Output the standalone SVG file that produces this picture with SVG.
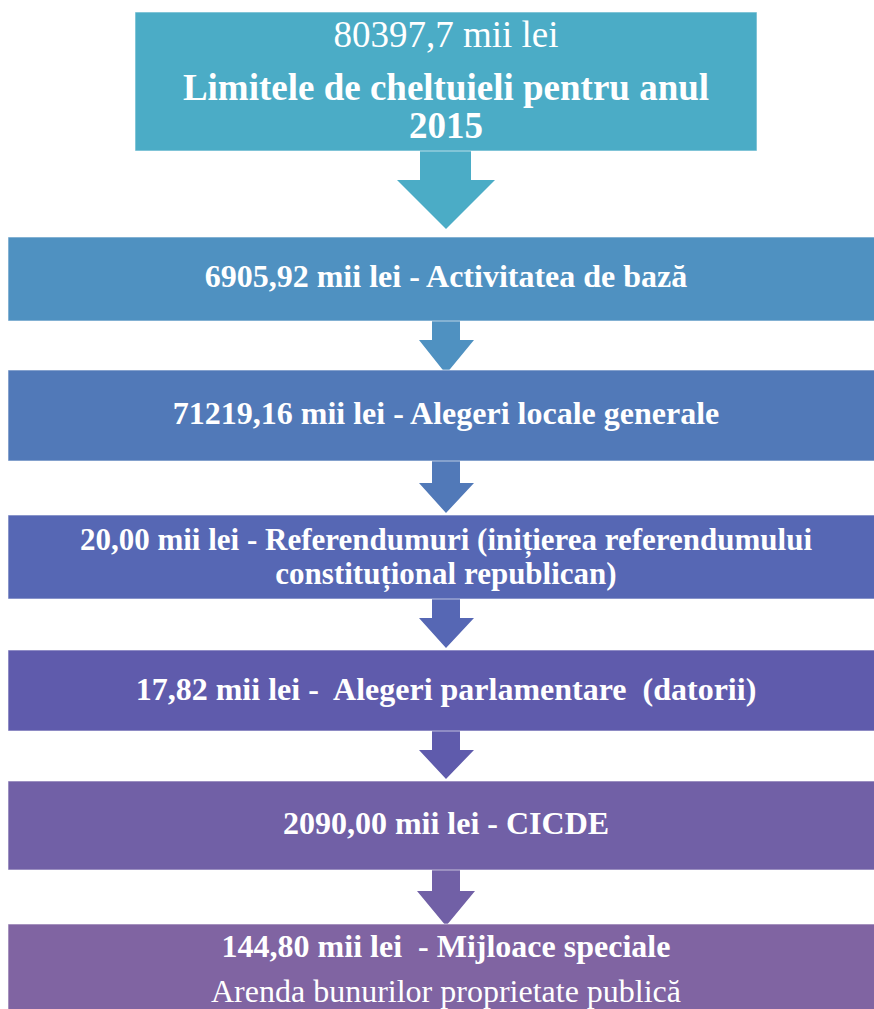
<svg xmlns="http://www.w3.org/2000/svg" width="874" height="1009" viewBox="0 0 874 1009">
<style>
.box{stroke:#ffffff;stroke-width:1;stroke-opacity:0.6}
text{font-family:"Liberation Serif","Times New Roman",serif;fill:#ffffff;text-anchor:middle}
.b{font-weight:bold;font-size:32px}
.r{font-size:32px}
</style>
<rect width="874" height="1009" fill="#ffffff"/>
<g id="connectors">
  <polygon points="420,151 471,151 471,180 495,180 446,229 397,180 420,180" fill="#4BACC6"/>
  <polygon points="432,321 460,321 460,340 474,340 446,374 419,340 432,340" fill="#4F91C1"/>
  <polygon points="432,461 460,461 460,483 474,483 446,513 419,483 432,483" fill="#5179B8"/>
  <polygon points="432,599 460,599 460,618 474,618 446,648 419,618 432,618" fill="#5667B4"/>
  <polygon points="432,731 460,731 460,750 474,750 446,779 419,750 432,750" fill="#5F5BAC"/>
  <polygon points="432,870 460,870 460,891 475,891 446,926 417,891 432,891" fill="#7160A6"/>
</g>
<g id="n1">
  <rect class="box" x="135" y="12" width="622" height="139" fill="#4BACC6"/>
  <text x="446" y="47" style="font-size:37px">80397,7 mii lei</text>
  <text x="446" y="100" style="font-size:37px;font-weight:bold">Limitele de cheltuieli pentru anul</text>
  <text x="446" y="138" style="font-size:37px;font-weight:bold">2015</text>
</g>
<g id="n2">
  <rect class="box" x="8" y="237" width="876" height="84" fill="#4F91C1"/>
  <text class="b" x="446" y="287">6905,92 mii lei - Activitatea de bază</text>
</g>
<g id="n3">
  <rect class="box" x="8" y="370" width="876" height="91" fill="#5179B8"/>
  <text class="b" x="446" y="424">71219,16 mii lei - Alegeri locale generale</text>
</g>
<g id="n4">
  <rect class="box" x="8" y="515" width="876" height="84" fill="#5667B4"/>
  <text class="b" x="446" y="550" style="font-size:31px">20,00 mii lei - Referendumuri (inițierea referendumului</text>
  <text class="b" x="446" y="584" style="font-size:31px">constituțional republican)</text>
</g>
<g id="n5">
  <rect class="box" x="8" y="650" width="876" height="81" fill="#5F5BAC"/>
  <text class="b" x="446" y="700" xml:space="preserve">17,82 mii lei -  Alegeri parlamentare  (datorii)</text>
</g>
<g id="n6">
  <rect class="box" x="8" y="781" width="876" height="89" fill="#7160A6"/>
  <text class="b" x="446" y="834">2090,00 mii lei - CICDE</text>
</g>
<g id="n7">
  <rect class="box" x="8" y="924" width="876" height="100" fill="#8064A2"/>
  <text class="b" x="446" y="957" xml:space="preserve">144,80 mii lei  - Mijloace speciale</text>
  <text class="r" x="446" y="1002">Arenda bunurilor proprietate publică</text>
</g>
</svg>
